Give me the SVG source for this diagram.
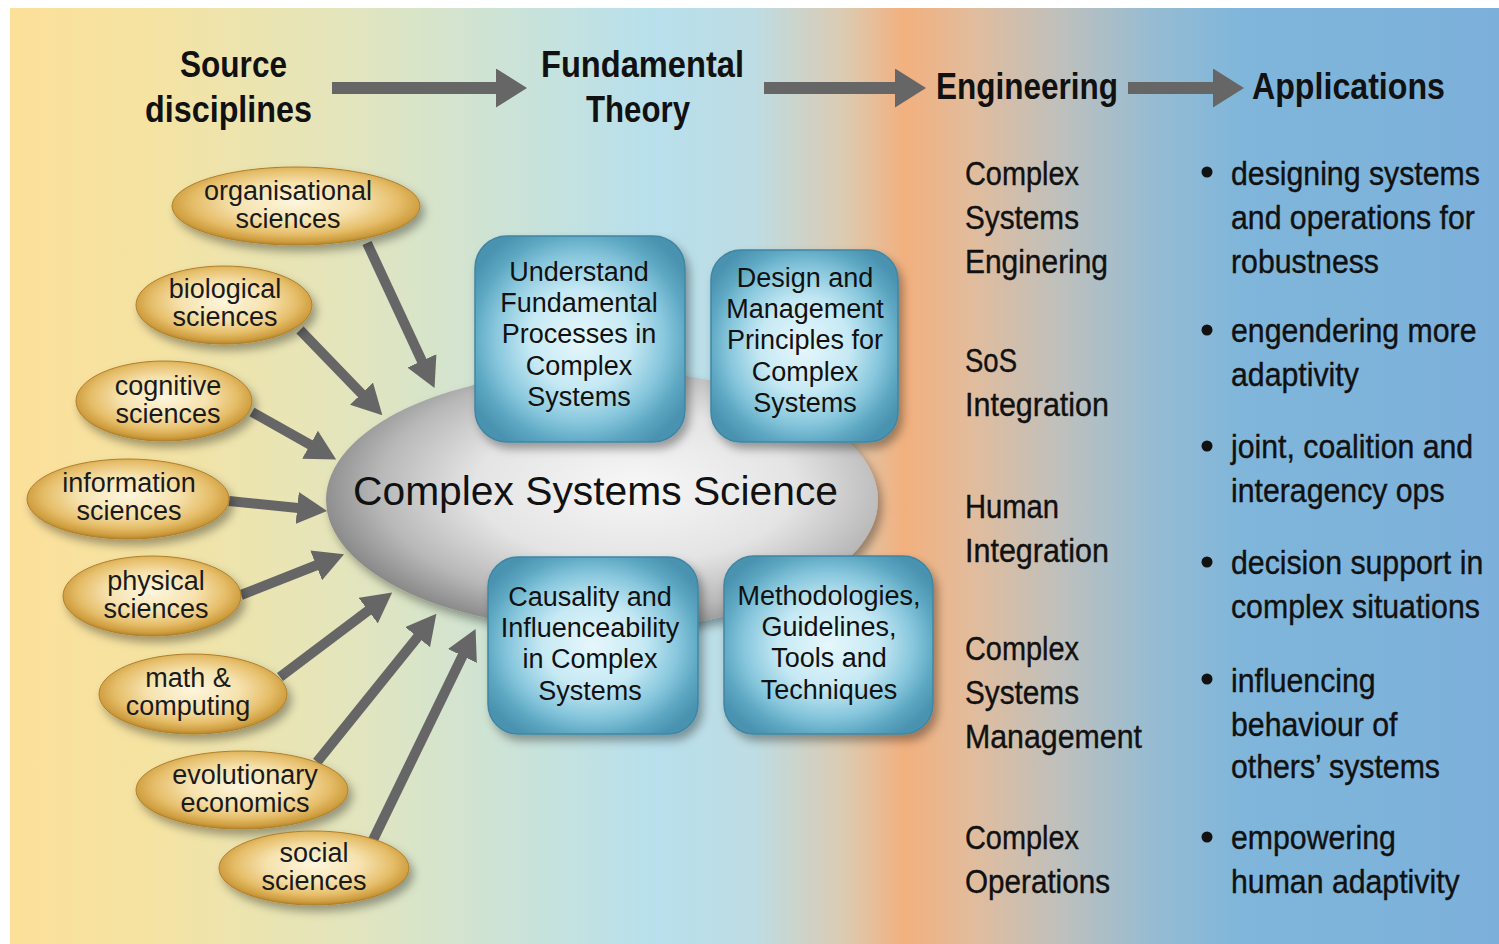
<svg xmlns="http://www.w3.org/2000/svg" width="1499" height="944" viewBox="0 0 1499 944">
<defs>
<linearGradient id="bg" gradientUnits="userSpaceOnUse" x1="10" y1="0" x2="1499" y2="0">
<stop offset="0" stop-color="#FCE09A"/>
<stop offset="0.094" stop-color="#F5E3A2"/>
<stop offset="0.228" stop-color="#E3E5BD"/>
<stop offset="0.329" stop-color="#CDE3D6"/>
<stop offset="0.43" stop-color="#B8E0EC"/>
<stop offset="0.5" stop-color="#BEDCE3"/>
<stop offset="0.56" stop-color="#DCCBB2"/>
<stop offset="0.601" stop-color="#F2B07E"/>
<stop offset="0.645" stop-color="#E2BC9C"/>
<stop offset="0.705" stop-color="#BFC0BC"/>
<stop offset="0.766" stop-color="#97BCD2"/>
<stop offset="0.826" stop-color="#80B6DA"/>
<stop offset="1" stop-color="#7CB0DA"/>
</linearGradient>
<radialGradient id="gold" cx="50%" cy="45%" r="55%">
<stop offset="0" stop-color="#FDF6DE"/>
<stop offset="0.45" stop-color="#F6E2AE"/>
<stop offset="0.75" stop-color="#E6BE6A"/>
<stop offset="0.92" stop-color="#CF9E40"/>
<stop offset="1" stop-color="#B6852A"/>
</radialGradient>
<radialGradient id="blue" cx="50%" cy="50%" r="60%">
<stop offset="0" stop-color="#E6F7FC"/>
<stop offset="0.4" stop-color="#C6E9F4"/>
<stop offset="0.68" stop-color="#86C6DC"/>
<stop offset="0.85" stop-color="#5DA7C2"/>
<stop offset="1" stop-color="#4A92B0"/>
</radialGradient>
<radialGradient id="grey" cx="56%" cy="45%" r="58%">
<stop offset="0" stop-color="#F7F7F7"/>
<stop offset="0.5" stop-color="#E4E4E4"/>
<stop offset="0.8" stop-color="#B8B8B8"/>
<stop offset="1" stop-color="#888888"/>
</radialGradient>
<filter id="sh" x="-20%" y="-20%" width="150%" height="160%">
<feDropShadow dx="4" dy="6" stdDeviation="5" flood-color="#000" flood-opacity="0.35"/>
</filter>
<marker id="ah" markerUnits="userSpaceOnUse" viewBox="0 0 30 32" markerWidth="30" markerHeight="32" refX="1" refY="16" orient="auto">
<path d="M0,0 L30,16 L0,32 z" fill="#666"/>
</marker>
<marker id="hh" markerUnits="userSpaceOnUse" viewBox="0 0 31 39" markerWidth="31" markerHeight="39" refX="1" refY="19.5" orient="auto">
<path d="M0,0 L31,19.5 L0,39 z" fill="#666"/>
</marker>
<style>
.hd{font-family:"Liberation Sans",Arial,sans-serif;font-weight:bold;font-size:37px;fill:#111}
.en{font-family:"Liberation Sans",Arial,sans-serif;font-size:34px;fill:#111;stroke:#111;stroke-width:0.4}
.src{font-family:"Liberation Sans",Arial,sans-serif;font-size:27px;fill:#1a1a1a;text-anchor:middle}
.bx{font-family:"Liberation Sans",Arial,sans-serif;font-size:27px;fill:#111;text-anchor:middle}
.cs{font-family:"Liberation Sans",Arial,sans-serif;font-size:40px;fill:#111}
.gold{fill:url(#gold);stroke:#B07F2A;stroke-width:1;filter:url(#sh)}
.box{fill:url(#blue);stroke:#3F86A4;stroke-width:1.5;filter:url(#sh)}
.con{stroke:#666;stroke-width:10;fill:none;marker-end:url(#ah)}
.hcon{stroke:#666;stroke-width:12;fill:none;marker-end:url(#hh)}
.bul{fill:#111}
</style>
</defs>
<rect x="0" y="0" width="1499" height="944" fill="#fff"/>
<rect x="10" y="8" width="1489" height="936" fill="url(#bg)"/>

<g id="headers">
<text class="hd" x="180" y="77" textLength="107" lengthAdjust="spacingAndGlyphs">Source</text>
<text class="hd" x="145" y="122" textLength="167" lengthAdjust="spacingAndGlyphs">disciplines</text>
<text class="hd" x="541" y="77" textLength="203" lengthAdjust="spacingAndGlyphs">Fundamental</text>
<text class="hd" x="586" y="122" textLength="104" lengthAdjust="spacingAndGlyphs">Theory</text>
<text class="hd" x="936" y="99" textLength="182" lengthAdjust="spacingAndGlyphs">Engineering</text>
<text class="hd" x="1252" y="99" textLength="193" lengthAdjust="spacingAndGlyphs">Applications</text>
</g>

<g id="core">
<ellipse cx="602" cy="500" rx="276" ry="130" fill="url(#grey)" filter="url(#sh)"/>
<text class="cs" x="353" y="505" textLength="485" lengthAdjust="spacingAndGlyphs">Complex Systems Science</text>
</g>

<g id="connectors">
<line class="hcon" x1="332" y1="88" x2="497" y2="88"/>
<line class="hcon" x1="764" y1="88" x2="896" y2="88"/>
<line class="hcon" x1="1128" y1="88" x2="1214" y2="88"/>
<line class="con" x1="367" y1="243" x2="422.3" y2="361.8"/>
<line class="con" x1="300" y1="330" x2="362.2" y2="394.4"/>
<line class="con" x1="252" y1="412" x2="310.9" y2="445.2"/>
<line class="con" x1="229" y1="501" x2="298.2" y2="508"/>
<line class="con" x1="241" y1="595" x2="317.1" y2="565"/>
<line class="con" x1="280" y1="677" x2="369" y2="610"/>
<line class="con" x1="317" y1="762" x2="418.2" y2="636.4"/>
<line class="con" x1="373" y1="840" x2="462.9" y2="655"/>
</g>

<g id="src-organisational">
<ellipse class="gold" cx="296" cy="206" rx="124" ry="39"/>
<text class="src" x="288" y="200">organisational</text>
<text class="src" x="288" y="228">sciences</text>
</g>
<g id="src-biological">
<ellipse class="gold" cx="224" cy="305" rx="88" ry="39"/>
<text class="src" x="225" y="298">biological</text>
<text class="src" x="225" y="326">sciences</text>
</g>
<g id="src-cognitive">
<ellipse class="gold" cx="164" cy="401" rx="88" ry="40"/>
<text class="src" x="168" y="395">cognitive</text>
<text class="src" x="168" y="423">sciences</text>
</g>
<g id="src-information">
<ellipse class="gold" cx="128" cy="499" rx="101" ry="40"/>
<text class="src" x="129" y="492">information</text>
<text class="src" x="129" y="520">sciences</text>
</g>
<g id="src-physical">
<ellipse class="gold" cx="152" cy="596" rx="89" ry="40"/>
<text class="src" x="156" y="590">physical</text>
<text class="src" x="156" y="618">sciences</text>
</g>
<g id="src-math">
<ellipse class="gold" cx="193" cy="694" rx="94" ry="40"/>
<text class="src" x="188" y="687">math &amp;</text>
<text class="src" x="188" y="715">computing</text>
</g>
<g id="src-evolutionary">
<ellipse class="gold" cx="242" cy="790" rx="106" ry="39"/>
<text class="src" x="245" y="784">evolutionary</text>
<text class="src" x="245" y="812">economics</text>
</g>
<g id="src-social">
<ellipse class="gold" cx="314" cy="868" rx="95" ry="37"/>
<text class="src" x="314" y="862">social</text>
<text class="src" x="314" y="890">sciences</text>
</g>

<g id="box-understand">
<rect class="box" x="475" y="236" width="210" height="206" rx="32"/>
<text class="bx" x="579" y="281">Understand</text>
<text class="bx" x="579" y="312">Fundamental</text>
<text class="bx" x="579" y="343">Processes in</text>
<text class="bx" x="579" y="375">Complex</text>
<text class="bx" x="579" y="406">Systems</text>
</g>
<g id="box-design">
<rect class="box" x="711" y="250" width="187" height="192" rx="30"/>
<text class="bx" x="805" y="287">Design and</text>
<text class="bx" x="805" y="318">Management</text>
<text class="bx" x="805" y="349">Principles for</text>
<text class="bx" x="805" y="381">Complex</text>
<text class="bx" x="805" y="412">Systems</text>
</g>
<g id="box-causality">
<rect class="box" x="488" y="557" width="210" height="177" rx="30"/>
<text class="bx" x="590" y="606">Causality and</text>
<text class="bx" x="590" y="637">Influenceability</text>
<text class="bx" x="590" y="668">in Complex</text>
<text class="bx" x="590" y="700">Systems</text>
</g>
<g id="box-methods">
<rect class="box" x="724" y="556" width="209" height="178" rx="30"/>
<text class="bx" x="829" y="605">Methodologies,</text>
<text class="bx" x="829" y="636">Guidelines,</text>
<text class="bx" x="829" y="667">Tools and</text>
<text class="bx" x="829" y="699">Techniques</text>
</g>

<g id="engineering">
<text class="en" x="965" y="185" textLength="114" lengthAdjust="spacingAndGlyphs">Complex</text>
<text class="en" x="965" y="229" textLength="114" lengthAdjust="spacingAndGlyphs">Systems</text>
<text class="en" x="965" y="273" textLength="143" lengthAdjust="spacingAndGlyphs">Enginering</text>
<text class="en" x="965" y="372" textLength="52" lengthAdjust="spacingAndGlyphs">SoS</text>
<text class="en" x="965" y="416" textLength="144" lengthAdjust="spacingAndGlyphs">Integration</text>
<text class="en" x="965" y="518" textLength="94" lengthAdjust="spacingAndGlyphs">Human</text>
<text class="en" x="965" y="562" textLength="144" lengthAdjust="spacingAndGlyphs">Integration</text>
<text class="en" x="965" y="660" textLength="114" lengthAdjust="spacingAndGlyphs">Complex</text>
<text class="en" x="965" y="704" textLength="114" lengthAdjust="spacingAndGlyphs">Systems</text>
<text class="en" x="965" y="748" textLength="177" lengthAdjust="spacingAndGlyphs">Management</text>
<text class="en" x="965" y="849" textLength="114" lengthAdjust="spacingAndGlyphs">Complex</text>
<text class="en" x="965" y="893" textLength="145" lengthAdjust="spacingAndGlyphs">Operations</text>
</g>

<g id="applications">
<circle class="bul" cx="1207" cy="172" r="5.5"/>
<circle class="bul" cx="1207" cy="330" r="5.5"/>
<circle class="bul" cx="1207" cy="446" r="5.5"/>
<circle class="bul" cx="1207" cy="562" r="5.5"/>
<circle class="bul" cx="1207" cy="679" r="5.5"/>
<circle class="bul" cx="1207" cy="837" r="5.5"/>
<g transform="matrix(0.89,0,0,1,1231,0)">
<text class="en" x="0" y="185">designing systems</text>
<text class="en" x="0" y="229">and operations for</text>
<text class="en" x="0" y="273">robustness</text>
<text class="en" x="0" y="342">engendering more</text>
<text class="en" x="0" y="386">adaptivity</text>
<text class="en" x="0" y="458">joint, coalition and</text>
<text class="en" x="0" y="502">interagency ops</text>
<text class="en" x="0" y="574">decision support in</text>
<text class="en" x="0" y="618">complex situations</text>
<text class="en" x="0" y="692">influencing</text>
<text class="en" x="0" y="736">behaviour of</text>
<text class="en" x="0" y="778">others’ systems</text>
<text class="en" x="0" y="849">empowering</text>
<text class="en" x="0" y="893">human adaptivity</text>
</g>
</g>
</svg>
